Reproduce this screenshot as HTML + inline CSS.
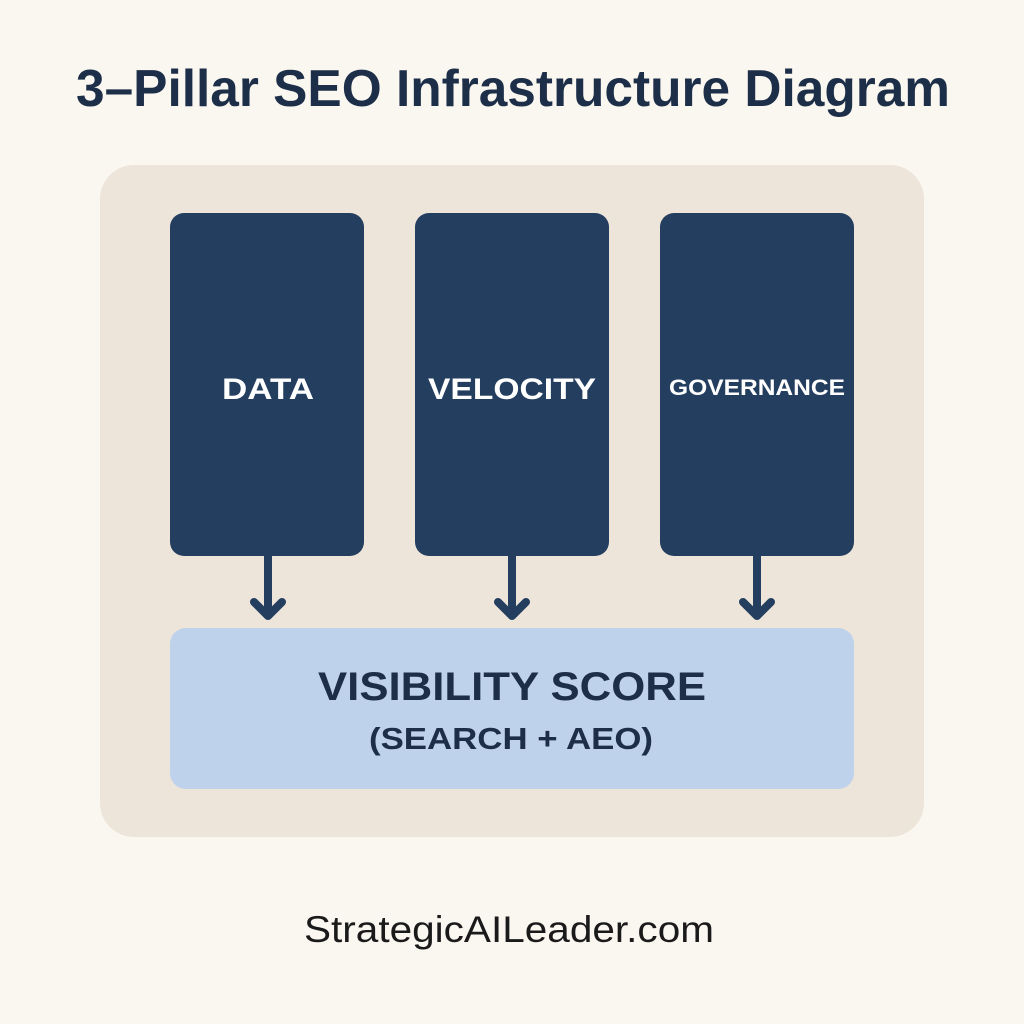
<!DOCTYPE html>
<html><head><style>
html,body{margin:0;padding:0;background:#faf6f0;}
svg{display:block;}
</style></head><body>
<svg width="1024" height="1024" viewBox="0 0 1024 1024" xmlns="http://www.w3.org/2000/svg">
<rect width="1024" height="1024" fill="#faf6f0"/>
<text x="513" y="106" text-anchor="middle" font-family="Liberation Sans, sans-serif" font-weight="bold" font-size="52" fill="#1c2e48" textLength="874" lengthAdjust="spacingAndGlyphs">3–Pillar SEO Infrastructure Diagram</text>
<rect x="100" y="165" width="824" height="672" rx="34" fill="#ede4da"/>
<rect x="170" y="213" width="194" height="343" rx="14" fill="#243e5f"/>
<rect x="415" y="213" width="194" height="343" rx="14" fill="#243e5f"/>
<rect x="660" y="213" width="194" height="343" rx="14" fill="#243e5f"/>
<g font-family="Liberation Sans, sans-serif" font-weight="bold" fill="#ffffff" text-anchor="middle">
<text x="268" y="399" font-size="30" textLength="92" lengthAdjust="spacingAndGlyphs">DATA</text>
<text x="512" y="399" font-size="30" textLength="168" lengthAdjust="spacingAndGlyphs">VELOCITY</text>
<text x="757" y="395" font-size="22" textLength="176" lengthAdjust="spacingAndGlyphs">GOVERNANCE</text>
</g>
<g stroke="#243e5f" stroke-width="8" fill="none" stroke-linecap="round" stroke-linejoin="round">
<line x1="268" y1="556" x2="268" y2="615"/><polyline points="254,602 268,616 282,602"/>
<line x1="512" y1="556" x2="512" y2="615"/><polyline points="498,602 512,616 526,602"/>
<line x1="757" y1="556" x2="757" y2="615"/><polyline points="743,602 757,616 771,602"/>
</g>
<rect x="170" y="628" width="684" height="161" rx="16" fill="#bed2ec"/>
<g font-family="Liberation Sans, sans-serif" font-weight="bold" fill="#1c2e48" text-anchor="middle">
<text x="512" y="700" font-size="40" textLength="388" lengthAdjust="spacingAndGlyphs">VISIBILITY SCORE</text>
<text x="511" y="749" font-size="31" textLength="284" lengthAdjust="spacingAndGlyphs">(SEARCH + AEO)</text>
</g>
<text x="509" y="942" text-anchor="middle" font-family="Liberation Sans, sans-serif" font-size="37" fill="#1a1a1a" textLength="410" lengthAdjust="spacingAndGlyphs">StrategicAILeader.com</text>
</svg>
</body></html>
